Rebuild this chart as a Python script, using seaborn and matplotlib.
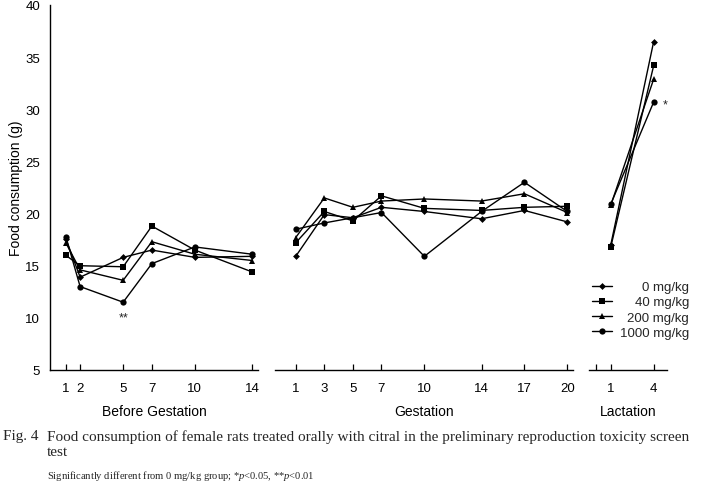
import pandas as pd
import seaborn as sns
import matplotlib.pyplot as plt
from matplotlib.lines import Line2D

sns.set_theme(style="ticks")
plt.rcParams['font.family'] = ['Liberation Sans', 'DejaVu Sans']
plt.rcParams['mathtext.fontset'] = 'custom'
plt.rcParams['mathtext.rm'] = 'Liberation Serif'
plt.rcParams['mathtext.it'] = 'Liberation Serif:italic'

doses = ['0 mg/kg', '40 mg/kg', '200 mg/kg', '1000 mg/kg']
marker_list = ['D', 's', '^', 'o']
marker_size = [3.5, 4.5, 5, 4.5]

before_days = [1, 2, 5, 7, 10, 14]
before = {
    '0 mg/kg':    [17.6, 13.9, 15.8, 16.5, 15.8, 15.9],
    '40 mg/kg':   [16.0, 15.0, 14.9, 18.8, 16.5, 14.4],
    '200 mg/kg':  [17.2, 14.6, 13.6, 17.3, 16.1, 15.5],
    '1000 mg/kg': [17.8, 13.0, 11.5, 15.2, 16.8, 16.1],
}

gest_days = [1, 3, 5, 7, 10, 14, 17, 20]
gest = {
    '0 mg/kg':    [15.9, 19.9, 19.6, 20.6, 20.2, 19.5, 20.3, 19.2],
    '40 mg/kg':   [17.2, 20.2, 19.3, 21.7, 20.5, 20.3, 20.6, 20.7],
    '200 mg/kg':  [17.7, 21.5, 20.6, 21.2, 21.4, 21.2, 21.9, 20.1],
    '1000 mg/kg': [18.5, 19.1, 19.6, 20.1, 15.9, 20.2, 23.0, 20.2],
}

lact_days = [1, 4]
lact = {
    '0 mg/kg':    [17.0, 36.5],
    '40 mg/kg':   [16.8, 34.2],
    '200 mg/kg':  [20.8, 32.9],
    '1000 mg/kg': [20.9, 30.7],
}

yticks = [5, 10, 15, 20, 25, 30, 35, 40]


def to_long(days, values):
    rows = []
    for dose in doses:
        for d, v in zip(days, values[dose]):
            rows.append(dict(day=d, value=v, dose=dose))
    return pd.DataFrame(rows)


def draw_panel(ax, days, values, xlim, ticks, ticklabels, xlabel):
    df = to_long(days, values)
    for dose, m, ms in zip(doses, marker_list, marker_size):
        sns.lineplot(data=df[df.dose == dose], x='day', y='value', color='black',
                     marker=m, markersize=ms, markeredgewidth=0, linewidth=1.0,
                     legend=False, ax=ax)
    ax.set_xlim(*xlim)
    ax.set_ylim(5, 40)
    ax.set_xticks(ticks)
    ax.set_xticklabels(ticklabels)
    ax.tick_params(axis='x', direction='in', length=4, width=0.9, pad=8.5,
                   labelsize=9.5, colors='black')
    ax.set_xlabel(xlabel, fontsize=10, labelpad=7, color='black')
    ax.set_ylabel('')
    for s in ['top', 'right']:
        ax.spines[s].set_visible(False)
    ax.spines['bottom'].set_linewidth(1.0)
    ax.spines['bottom'].set_color('black')
    ax.set_facecolor('none')


fig = plt.figure(figsize=(7.01, 4.85), dpi=100)
H = 485
W = 701
bot = (H - 371) / H
hgt = 365 / H

ax1 = fig.add_axes([50 / W, bot, 208 / W, hgt])
ax2 = fig.add_axes([275 / W, bot, 298.3 / W, hgt])
ax3 = fig.add_axes([589.3 / W, bot, 77.7 / W, hgt])

draw_panel(ax1, before_days, before, (-0.1, 14.4), before_days,
           [str(d) for d in before_days], 'Before Gestation')
draw_panel(ax2, gest_days, gest, (-0.45, 20.42), gest_days,
           [str(d) for d in gest_days], 'Gestation')
draw_panel(ax3, lact_days, lact, (-0.5, 4.93), [0] + lact_days,
           [''] + [str(d) for d in lact_days], 'Lactation')

ax1.set_yticks(yticks)
ax1.tick_params(axis='y', length=0, pad=7, labelsize=9.5, colors='black')
ax1.spines['left'].set_linewidth(1.0)
ax1.spines['left'].set_color('black')
ax1.set_ylabel('Food consumption (g)', fontsize=10, labelpad=1.5, color='black')
for ax in (ax2, ax3):
    ax.spines['left'].set_visible(False)
    ax.set_yticks([])

# significance marks
ax1.annotate('**', xy=(5, before['1000 mg/kg'][2]), xytext=(0, -11),
             textcoords='offset points', ha='center', va='center', fontsize=9)
ax3.annotate('*', xy=(4, lact['1000 mg/kg'][1]), xytext=(8, -2),
             textcoords='offset points', ha='center', va='center', fontsize=9)

# legend
handles = [Line2D([], [], color='black', lw=1.0, marker=m, markersize=ms,
                  markeredgewidth=0) for m, ms in zip(marker_list, marker_size)]
leg = fig.legend(handles, doses, loc='upper left', bbox_to_anchor=(592 / W, 1 - 282 / H),
                 frameon=False, fontsize=9.5, handlelength=1.5, handletextpad=0.6,
                 labelspacing=0.22, borderpad=0, borderaxespad=0)
renderer = fig.canvas.get_renderer()
texts = leg.get_texts()
widths = [t.get_window_extent(renderer).width for t in texts]
for t, w in zip(texts, widths):
    t.set_x(max(widths) - w)

# caption
fig.text(3 / W, 1 - 437 / H, 'Fig. 4', family='Liberation Serif', fontsize=11,
         va='center', ha='left')
fig.text(47 / W, 1 - 437 / H,
         'Food consumption of female rats treated orally with citral in the '
         'preliminary reproduction toxicity screen',
         family='Liberation Serif', fontsize=11.0, va='center', ha='left')
fig.text(47 / W, 1 - 453 / H, 'test', family='Liberation Serif', fontsize=11.0,
         va='center', ha='left')
fig.text(47 / W, 1 - 476 / H,
         r'Significantly different from 0 mg/kg group; *$\it{p}$<0.05, **$\it{p}$<0.01',
         family='Liberation Serif', fontsize=7.6, va='center', ha='left')

fig.savefig('out.png', dpi=100)
